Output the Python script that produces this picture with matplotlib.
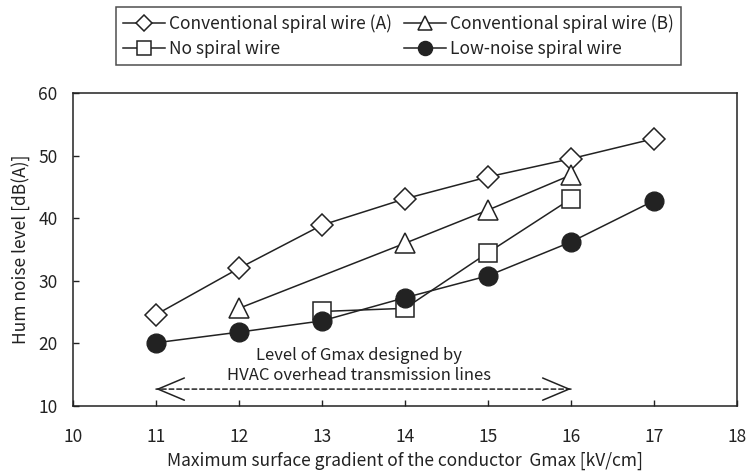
import matplotlib
matplotlib.use("Agg")
import matplotlib.pyplot as plt

plt.rcParams['font.family'] = ['Noto Sans CJK JP', 'DejaVu Sans']

# data
gmax_a = [11, 12, 13, 14, 15, 16, 17]
noise_a = [24.6, 32.0, 38.9, 43.1, 46.6, 49.5, 52.7]
gmax_b = [12, 14, 15, 16]
noise_b = [25.6, 36.0, 41.3, 46.9]
gmax_none = [13, 14, 15, 16]
noise_none = [25.1, 25.6, 34.5, 43.1]
gmax_low = [11, 12, 13, 14, 15, 16, 17]
noise_low = [20.1, 21.8, 23.6, 27.3, 30.8, 36.2, 42.8]

fig = plt.figure(figsize=(7.47, 4.75), dpi=100)
ax = fig.add_axes([73/747, 1-406/475, 664/747, 313/475])

ink = '#222222'
lw = 1.1
ax.plot(gmax_a, noise_a, color=ink, lw=lw, marker='D', ms=11,
        mfc='white', mec=ink, mew=1.1, label='Conventional spiral wire (A)')
ax.plot(gmax_none, noise_none, color=ink, lw=lw, marker='s', ms=13,
        mfc='white', mec=ink, mew=1.1, label='No spiral wire')
ax.plot(gmax_b, noise_b, color=ink, lw=lw, marker='^', ms=14,
        mfc='white', mec=ink, mew=1.1, label='Conventional spiral wire (B)')
ax.plot(gmax_low, noise_low, color=ink, lw=lw, marker='o', ms=13.5,
        mfc=ink, mec=ink, label='Low-noise spiral wire')

ax.set_xlim(10, 18)
ax.set_ylim(10, 60)
ax.set_xticks(range(10, 19))
ax.set_yticks(range(10, 61, 10))
ax.tick_params(direction='in', length=4, width=1, labelsize=12.5, colors=ink)
ax.tick_params(axis='x', pad=16)
ax.tick_params(axis='y', pad=11)
for s in ax.spines.values():
    s.set_linewidth(1.1)
    s.set_color(ink)

ax.set_xlabel('Maximum surface gradient of the conductor  Gmax [kV/cm]',
              fontsize=12.5, labelpad=4, color=ink)
ax.set_ylabel('Hum noise level [dB(A)]', fontsize=12.5, labelpad=6, color=ink)

# design range arrow: dashed shaft with open solid heads
ax.annotate('', xy=(11, 12.7), xytext=(16, 12.7),
            arrowprops=dict(arrowstyle='-', linestyle=(0, (3, 2)), color=ink,
                            lw=1.1, shrinkA=0, shrinkB=0))
for x0, x1 in [(11, 11.05), (16, 15.95)]:
    ax.annotate('', xy=(x0, 12.7), xytext=(x1, 12.7),
                arrowprops=dict(arrowstyle='->, head_length=1.9, head_width=0.8',
                                color=ink, lw=1.1, shrinkA=0, shrinkB=0))
ax.text(13.45, 13.5, 'Level of Gmax designed by\nHVAC overhead transmission lines',
        ha='center', va='bottom', fontsize=12, color=ink, linespacing=1.25)

handles, labels = ax.get_legend_handles_labels()
leg = fig.legend(handles, labels, ncol=2, loc='upper left',
                 bbox_to_anchor=(116/747, 1-7/475),
                 frameon=True, fancybox=False, edgecolor=ink, fontsize=12.5,
                 handlelength=2.4, handletextpad=0.25, borderaxespad=0,
                 borderpad=0.4, labelspacing=0.45, columnspacing=0.7,
                 markerscale=0.75)
leg.get_frame().set_linewidth(1.1)
for t in leg.get_texts():
    t.set_color(ink)

fig.savefig('out.png', dpi=100)
